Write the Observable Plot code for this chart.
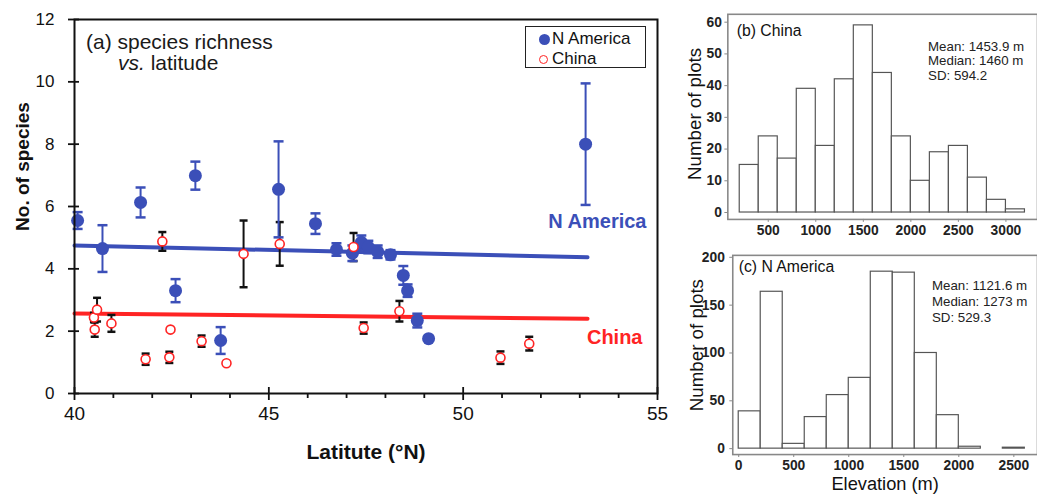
<!DOCTYPE html>
<html>
<head>
<meta charset="utf-8">
<script src="https://cdn.jsdelivr.net/npm/d3@7"></script>
<script src="https://cdn.jsdelivr.net/npm/@observablehq/plot@0.6"></script>
<style>
  html, body { margin: 0; padding: 0; background: white; }
  body { width: 1037px; height: 498px; overflow: hidden; position: relative;
         font-family: "Liberation Sans", Arial, Helvetica, sans-serif; }
  .panel { position: absolute; }
  #title { position: absolute; left: 86px; top: 31px; font-size: 21px; line-height: 21px; color: #1a1a1a; }
  #legend { position: absolute; left: 525px; top: 26px; width: 119px; height: 40px;
            border: 1.5px solid #222; background: white; font-size: 17px; color: #111; }
  #legend .row { position: absolute; left: 0; height: 20px; line-height: 20px; white-space: nowrap; }
  #legend .sym { position: absolute; box-sizing: border-box; border-radius: 50%; }
</style>
</head>
<body>
<div id="pa" class="panel" style="left:0;top:0"></div>
<div id="pb" class="panel" style="left:680px;top:0"></div>
<div id="pc" class="panel" style="left:680px;top:245px"></div>
<div id="title">(a) species richness<br><span style="padding-left:32px"><i>vs.</i> latitude</span></div>
<div id="legend">
  <div class="row" style="top:2px"><span class="sym" style="left:13px;top:5px;width:11px;height:11px;background:#3b4fb8"></span><span style="position:absolute;left:26px">N America</span></div>
  <div class="row" style="top:22px"><span class="sym" style="left:13px;top:6px;width:9px;height:9px;border:1.5px solid #ff2424"></span><span style="position:absolute;left:26px">China</span></div>
</div>
<script>
const FONT = '"Liberation Sans", Arial, Helvetica, sans-serif';

// ---- Panel (a): species richness vs latitude ----
const naLat  = [40.08, 40.72, 41.70, 42.60, 43.11, 43.76, 45.25, 46.20, 46.74, 47.15, 47.38, 47.56, 47.80, 48.13, 48.46, 48.57, 48.82, 49.11, 53.15];
const naRich = [5.55, 4.65, 6.13, 3.30, 6.99, 1.70, 6.55, 5.45, 4.62, 4.50, 4.85, 4.70, 4.55, 4.45, 3.79, 3.30, 2.34, 1.76, 8.00];
const naErr  = [0.27, 0.75, 0.48, 0.37, 0.45, 0.43, 1.54, 0.33, 0.20, 0.25, 0.22, 0.20, 0.20, 0.15, 0.30, 0.20, 0.22, 0.00, 1.95];

const cnLat  = [40.50, 40.52, 40.58, 40.95, 41.83, 42.26, 42.44, 42.47, 43.27, 43.91, 44.35, 45.28, 47.18, 47.44, 48.36, 50.96, 51.70];
const cnRich = [2.44, 2.05, 2.69, 2.25, 1.10, 4.88, 1.16, 2.05, 1.68, 0.97, 4.48, 4.80, 4.70, 2.10, 2.64, 1.15, 1.60];
const cnErr  = [0.15, 0.23, 0.38, 0.27, 0.18, 0.30, 0.18, 0.00, 0.18, 0.00, 1.07, 0.70, 0.45, 0.18, 0.33, 0.20, 0.22];

const fitLat = [40, 53.2];
const naFitV = [4.75, 4.37];
const cnFitV = [2.57, 2.40];

const latTicks = [40, 45, 50, 55];
const latMinor = [41, 42, 43, 44, 46, 47, 48, 49, 51, 52, 53, 54];
const richTicks = [0, 2, 4, 6, 8, 10, 12];

// ---- Panel (b): China elevation histogram ----
const cnBinStart = [200, 400, 600, 800, 1000, 1200, 1400, 1600, 1800, 2000, 2200, 2400, 2600, 2800, 3000];
const cnCounts   = [15, 24, 17, 39, 21, 42, 59, 44, 24, 10, 19, 21, 11, 4, 1];
const cnElevTicks = [500, 1000, 1500, 2000, 2500, 3000];
const cnCountTicks = [0, 10, 20, 30, 40, 50, 60];
const cnStats = "Mean: 1453.9 m\nMedian: 1460 m\nSD: 594.2";

// ---- Panel (c): N America elevation histogram ----
const naBinStart = [0, 200, 400, 600, 800, 1000, 1200, 1400, 1600, 1800, 2000, 2200, 2400];
const naCounts   = [39, 164, 5, 33, 56, 74, 185, 184, 100, 35, 2, 0, 1];
const naElevTicks = [0, 500, 1000, 1500, 2000, 2500];
const naCountTicks = [0, 50, 100, 150, 200];
const naStats = "Mean: 1121.6 m\nMedian: 1273 m\nSD: 529.3";
const binWidth = 200;

const blue = "#3b4fb8", red = "#ff2424", ink = "#111";

const na = naLat.map((lat, i) => ({lat, v: naRich[i], e: naErr[i]}));
const cn = cnLat.map((lat, i) => ({lat, v: cnRich[i], e: cnErr[i]}));
const naFit = fitLat.map((lat, i) => ({lat, v: naFitV[i]}));
const cnFit = fitLat.map((lat, i) => ({lat, v: cnFitV[i]}));
const naE = na.filter(d => d.e > 0), cnE = cn.filter(d => d.e > 0);

const cap = {draw(ctx, size) { const w = Math.sqrt(size / Math.PI); ctx.moveTo(-w, 0); ctx.lineTo(w, 0); }};
const blank = () => "";
const str = d => String(d);

const pa = Plot.plot({
  width: 690, height: 498,
  marginLeft: 74, marginRight: 33, marginTop: 19, marginBottom: 105,
  x: {domain: [40, 55], label: null},
  y: {domain: [0, 12], label: null},
  style: {fontFamily: FONT, color: ink, background: "transparent"},
  marks: [
    Plot.line(naFit, {x: "lat", y: "v", stroke: blue, strokeWidth: 4}),
    Plot.line(cnFit, {x: "lat", y: "v", stroke: red, strokeWidth: 4}),
    Plot.ruleX(cnE, {x: "lat", y1: d => d.v - d.e, y2: d => d.v + d.e, stroke: ink, strokeWidth: 2}),
    Plot.dot(cnE, {x: "lat", y: d => d.v + d.e, symbol: cap, r: 4, fill: "none", stroke: ink, strokeWidth: 2.5}),
    Plot.dot(cnE, {x: "lat", y: d => d.v - d.e, symbol: cap, r: 4, fill: "none", stroke: ink, strokeWidth: 2.5}),
    Plot.ruleX(naE, {x: "lat", y1: d => d.v - d.e, y2: d => d.v + d.e, stroke: blue, strokeWidth: 2}),
    Plot.dot(naE, {x: "lat", y: d => d.v + d.e, symbol: cap, r: 5, fill: "none", stroke: blue, strokeWidth: 2.5}),
    Plot.dot(naE, {x: "lat", y: d => d.v - d.e, symbol: cap, r: 5, fill: "none", stroke: blue, strokeWidth: 2.5}),
    Plot.dot(na, {x: "lat", y: "v", r: 6.5, fill: blue}),
    Plot.dot(cn, {x: "lat", y: "v", r: 4.5, fill: "white", stroke: red, strokeWidth: 1.6}),
    Plot.frame({stroke: ink, strokeWidth: 2}),
    Plot.axisY({ticks: richTicks, tickSize: 6, tickPadding: 14, fontSize: 17, tickFormat: str, label: null, strokeWidth: 1.8}),
    Plot.axisY({ticks: richTicks, tickSize: -5, tickFormat: blank, label: null, strokeWidth: 1.8}),
    Plot.axisX({ticks: latTicks, tickSize: 7, tickPadding: 6, fontSize: 19, tickFormat: str, label: null, strokeWidth: 1.8}),
    Plot.axisX({ticks: latTicks, tickSize: -6, tickFormat: blank, label: null, strokeWidth: 1.8}),
    Plot.axisX({ticks: latMinor, tickSize: 5, tickFormat: blank, label: null, strokeWidth: 1.8}),
    Plot.text(["No. of species"], {text: d => d, frameAnchor: "left", rotate: -90, textAnchor: "middle", lineAnchor: "middle", dx: -52, dy: -40, fontSize: 19, fontWeight: "bold", fill: ink}),
    Plot.text(["Latitute (°N)"], {text: d => d, frameAnchor: "bottom", textAnchor: "middle", lineAnchor: "middle", dy: 59, fontSize: 21, fontWeight: "bold", fill: ink}),
    Plot.text([naFit[1]], {y: "v", text: () => "N America", frameAnchor: "right", lineAnchor: "middle", dx: -11, dy: -36, textAnchor: "end", fill: blue, fontSize: 20, fontWeight: "bold"}),
    Plot.text([cnFit[1]], {y: "v", text: () => "China", frameAnchor: "right", lineAnchor: "middle", dx: -15, dy: 19, textAnchor: "end", fill: red, fontSize: 20, fontWeight: "bold"})
  ]
});
document.getElementById("pa").append(pa);

function hist(starts, counts, o) {
  const bins = starts.map((s, i) => ({x1: s, x2: s + binWidth, n: counts[i]}));
  return Plot.plot({
    width: 362, height: o.height,
    marginLeft: o.ml, marginRight: 0, marginTop: o.mt, marginBottom: o.mb,
    x: {domain: o.xd, label: null},
    y: {domain: o.yd, label: null},
    style: {fontFamily: FONT, color: "#222", background: "transparent"},
    marks: [
      Plot.rectY(bins, {x1: "x1", x2: "x2", y1: 0, y2: "n", fill: "white", stroke: "#555", strokeWidth: 1.2}),
      Plot.frame({stroke: "#888", strokeWidth: 1.6}),
      Plot.axisY({ticks: o.yt, tickSize: 3, tickPadding: o.yp, fontSize: 14, fontWeight: "bold", tickFormat: str, label: null, stroke: "#888"}),
      Plot.axisX({ticks: o.xt, tickSize: 3, tickPadding: o.xp, fontSize: 14, fontWeight: "bold", tickFormat: str, label: null, stroke: "#888"}),
      Plot.text([o.title], {text: d => d, frameAnchor: "top-left", lineAnchor: "middle", dx: o.tdx, dy: o.tdy, fontSize: 16, textAnchor: "start", fill: "#111"}),
      Plot.text([o.stats], {text: d => d, frameAnchor: "top-left", lineAnchor: "middle", dx: o.sdx, dy: o.sdy, fontSize: 13.5, lineHeight: o.lh, textAnchor: "start", fill: "#222"}),
      Plot.text(["Number of plots"], {text: d => d, frameAnchor: "left", rotate: -90, textAnchor: "middle", lineAnchor: "middle", dx: o.ydx, dy: o.ydy, fontSize: 19, fill: "#111"}),
      ...(o.xlabel ? [Plot.text([o.xlabel], {text: d => d, frameAnchor: "bottom", textAnchor: "middle", lineAnchor: "middle", dy: 30, fontSize: 18.5, fill: "#111"})] : [])
    ]
  });
}

document.getElementById("pb").append(hist(cnBinStart, cnCounts, {
  height: 245, ml: 48, mt: 14, mb: 23,
  xd: [75, 3332], yd: [-2.18, 62.49],
  yt: cnCountTicks, xt: cnElevTicks, yp: 3, xp: 3,
  title: "(b) China", tdx: 9, tdy: 17,
  stats: cnStats, sdx: 203, sdy: 47, lh: 1.12,
  ydx: -33, ydy: -3
}));

document.getElementById("pc").append(hist(naBinStart, naCounts, {
  height: 253, ml: 53, mt: 10, mb: 41,
  xd: [-54, 2715], yd: [-6.19, 202.06],
  yt: naCountTicks, xt: naElevTicks, yp: 5, xp: 3,
  title: "(c) N America", tdx: 6, tdy: 12,
  stats: naStats, sdx: 202, sdy: 46, lh: 1.2,
  ydx: -36, ydy: -10, xlabel: "Elevation (m)"
}));
</script>
</body>
</html>
